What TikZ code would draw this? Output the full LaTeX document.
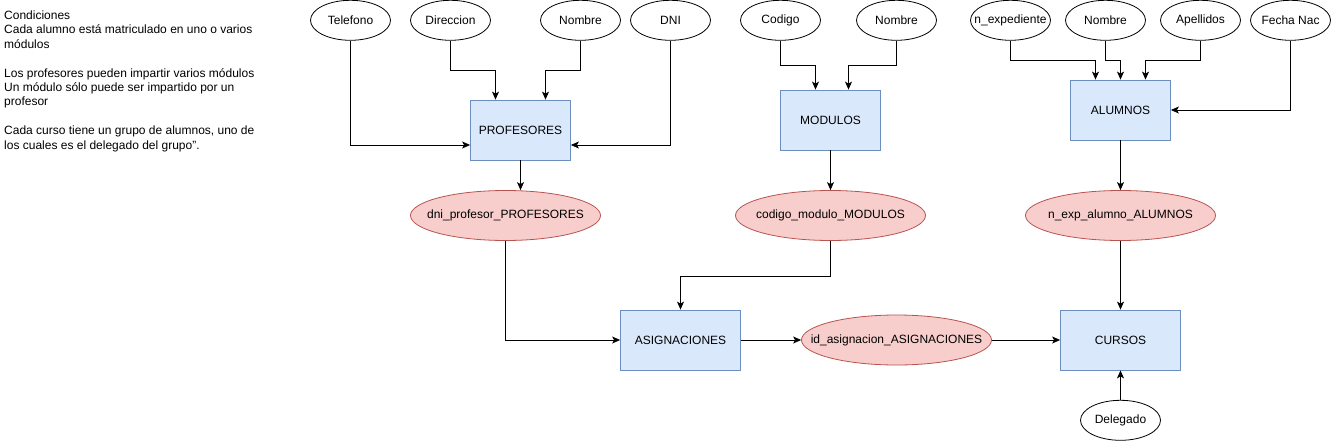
\documentclass[tikz,border=0pt]{standalone}
\usepackage{fontspec}
\setmainfont{Liberation Sans}
\usetikzlibrary{shapes.geometric,arrows.meta}
\definecolor{bfill}{HTML}{DAE8FC}
\definecolor{bdraw}{HTML}{6C8EBF}
\definecolor{rfill}{HTML}{F8CECC}
\definecolor{rdraw}{HTML}{B85450}
\newcommand{\zw}[1]{\makebox[0pt]{#1}}
\begin{document}
\begin{tikzpicture}[x=1pt,y=-1pt,
  every node/.style={font=\fontsize{12}{14.4}\selectfont, inner sep=0pt},
  attr/.style={ellipse, draw=black, fill=white, line width=0.8pt, minimum width=80pt, minimum height=40pt},
  ent/.style={rectangle, draw=bdraw, fill=bfill, line width=0.8pt, minimum width=100pt, minimum height=60pt},
  fk/.style={ellipse, draw=rdraw, fill=rfill, line width=0.8pt, minimum width=190pt, minimum height=50pt},
  arr/.style={draw=black, line width=0.8pt, -{Stealth[length=8pt,width=7pt,inset=2pt]}}
]
\useasboundingbox[fill=white] (0,0) rectangle (1331,442);

\node[anchor=north west, align=left] (cond) at (4,10.6) {Condiciones\\Cada alumno está matriculado en uno o varios\\módulos\\[14.4pt]Los profesores pueden impartir varios módulos\\Un módulo sólo puede ser impartido por un\\profesor\\[14.4pt]Cada curso tiene un grupo de alumnos, uno de\\los cuales es el delegado del grupo”.};

% PROFESORES
\node[attr] (tel) at (350.5,20.3) {\zw{Telefono}};
\node[attr] (dir) at (450.5,20.3) {\zw{Direccion}};
\node[attr] (nomP) at (580.5,20.3) {\zw{Nombre}};
\node[attr] (dni) at (670.5,20.3) {\zw{DNI}};
\node[ent] (prof) at (520.5,130) {PROFESORES};
\node[fk] (dniP) at (505.5,215.5) {\zw{dni\_profesor\_PROFESORES}};

% MODULOS
\node[attr] (cod) at (780.5,20.3) {\zw{Codigo}};
\node[attr] (nomM) at (896.5,20.3) {\zw{Nombre}};
\node[ent] (mod) at (830.5,120) {MODULOS};
\node[fk] (codM) at (830.5,215.5) {\zw{codigo\_modulo\_MODULOS}};

% ALUMNOS
\node[attr] (nexp) at (1010.5,20.3) {\zw{n\_expediente}};
\node[attr] (nomA) at (1105.5,20.3) {\zw{Nombre}};
\node[attr] (ape) at (1200.5,20.3) {\zw{Apellidos}};
\node[attr] (fecha) at (1290.5,20.3) {\zw{Fecha Nac}};
\node[ent] (alu) at (1120.5,110) {ALUMNOS};
\node[fk] (nexpA) at (1120.5,215.5) {\zw{n\_exp\_alumno\_ALUMNOS}};

% bottom row
\node[ent, minimum width=120pt] (asig) at (680.5,340) {ASIGNACIONES};
\node[fk] (idA) at (896.5,340) {\zw{id\_asignacion\_ASIGNACIONES}};
\node[ent, minimum width=120pt] (cur) at (1120.5,340) {CURSOS};
\node[attr] (del) at (1120.5,420.3) {\zw{Delegado}};

% edges PROFESORES
\draw[arr] (tel.south) |- ([yshift=-15pt]prof.west);
\draw[arr] (dir.south) -- ++(0,30) -| ([xshift=-25pt]prof.north);
\draw[arr] (nomP.south) -- ++(0,30) -| ([xshift=25pt]prof.north);
\draw[arr] (dni.south) |- ([yshift=-15pt]prof.east);
\draw[arr] (prof.south) -- (prof.south |- dniP.north);
\draw[arr] (dniP.south) |- (asig.west);

% edges MODULOS
\draw[arr] (cod.south) -- ++(0,24.3) -| ([xshift=-15pt]mod.north);
\draw[arr] (nomM.south) -- ++(0,24.3) -| ([xshift=18pt]mod.north);
\draw[arr] (mod.south) -- (codM.north);
\draw[arr] (codM.south) -- ++(0,35) -| (asig.north);

% edges ALUMNOS
\draw[arr] (nexp.south) -- ++(0,20) -| ([xshift=-25pt]alu.north);
\draw[arr] (nomA.south) -- ++(0,20) -| (alu.north);
\draw[arr] (ape.south) -- ++(0,20) -| ([xshift=25pt]alu.north);
\draw[arr] (fecha.south) |- (alu.east);
\draw[arr] (alu.south) -- (nexpA.north);
\draw[arr] (nexpA.south) -- (cur.north);

% bottom row edges
\draw[arr] (asig.east) -- (idA.west);
\draw[arr] (idA.east) -- (cur.west);
\draw[arr] (del.north) -- (cur.south);
\end{tikzpicture}
\end{document}
